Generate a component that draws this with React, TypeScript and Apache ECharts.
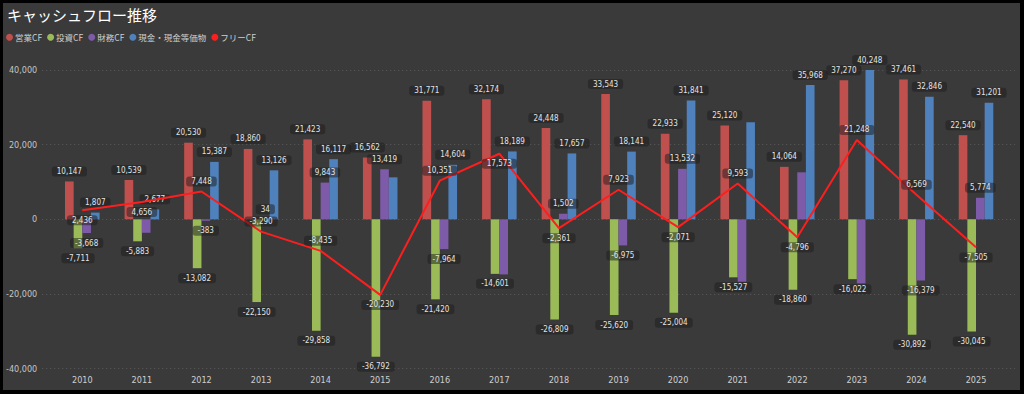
import React, { useEffect, useRef } from "react";
import * as echarts from "echarts";

const years = ["2010", "2011", "2012", "2013", "2014", "2015", "2016", "2017", "2018", "2019", "2020", "2021", "2022", "2023", "2024", "2025"];
const operatingCF = [10147, 10539, 20530, 18860, 21423, 16562, 31771, 32174, 24448, 33543, 22933, 25120, 14064, 37270, 37461, 22540];
const investingCF = [-7711, -5883, -13082, -22150, -29858, -36792, -21420, -14601, -26809, -25620, -25004, -15527, -18860, -16022, -30892, -30045];
const financingCF = [-3668, -3600, -383, 34, 9843, 13419, -7964, -14750, 1502, -6975, 13532, -16700, 12600, -17150, -16379, 5774];
const cashBalance = [1807, 2677, 15387, 13126, 16117, 11250, 14604, 18189, 17657, 18141, 31841, 26000, 35968, 40248, 32846, 31201];
const freeCF = [2436, 4656, 7448, -3290, -8435, -20230, 10351, 17573, -2361, 7923, -2071, 9593, -4796, 21248, 6569, -7505];

const seriesNames = ["営業CF", "投資CF", "財務CF", "現金・現金等価物", "フリーCF"];
const yTicks = { min: -40000, max: 40000, interval: 20000 };

// label display choices (which value labels the original hides / where free CF labels sit)
const financingHiddenYears = ["2011", "2017", "2021", "2022", "2023"];
const cashHiddenYears = ["2015", "2021"];
const freeLabelAboveYears = ["2012", "2013", "2014", "2016", "2019", "2021", "2023", "2024"];

const COLORS = ["#C0504D", "#9BBB59", "#7D5BA8", "#4F81BD", "#FF1E1E"];
const NUM_FONT = "'Liberation Sans Narrow', 'DejaVu Sans Condensed', 'Roboto', sans-serif";
const CJK_FONT = "'Noto Sans CJK JP', 'Noto Sans', sans-serif";
const LEGEND_FONT = "'Liberation Sans Narrow', 'Noto Sans CJK JP', sans-serif";

const fmt = (v: number) => v.toLocaleString("en-US");

const labelBase = {
  show: true,
  fontSize: 8,
  fontFamily: NUM_FONT,
  color: "#e4e4e4",
  backgroundColor: "rgba(28,28,28,0.5)",
  borderRadius: 3,
  padding: [1, 5, 1, 5],
  distance: 5,
  formatter: (p: any) => fmt(p.value),
};

export default function App() {
  const ref = useRef<HTMLDivElement>(null);

  useEffect(() => {
    if (!ref.current) return;
    const chart = echarts.init(ref.current, null, { renderer: "svg" });

    const barSeries = (idx: number, values: number[], hidden: string[]) => ({
      name: seriesNames[idx],
      type: "bar",
      xAxisIndex: 0,
      yAxisIndex: 0,
      barGap: "0%",
      barCategoryGap: "42%",
      itemStyle: { color: COLORS[idx] },
      label: { ...labelBase, position: "outside" },
      data: values.map((v, i) =>
        hidden.includes(years[i]) ? { value: v, label: { show: false } } : { value: v }
      ),
      z: 2,
    });

    const option: any = {
      animation: false,
      backgroundColor: "#3a3a3a",
      title: {
        text: "キャッシュフロー推移",
        left: 4,
        top: 4,
        padding: 0,
        textStyle: { color: "#ffffff", fontSize: 15, fontWeight: "normal", fontFamily: CJK_FONT },
      },
      legend: {
        left: 3,
        top: 30,
        padding: 0,
        icon: "circle",
        itemWidth: 7,
        itemHeight: 7,
        itemGap: 5,
        textStyle: { color: "#cfcfcf", fontSize: 8.5, fontFamily: LEGEND_FONT, padding: [0, 0, 0, -3] },
        data: seriesNames,
      },
      grid: [
        { left: 49.5, right: 14.2, top: 67, bottom: 21.3 },
        { left: 35, right: 5, top: 67, bottom: 21.3 },
      ],
      xAxis: [
        {
          type: "category",
          gridIndex: 0,
          data: years,
          axisLine: { show: false },
          axisTick: { show: false },
          axisLabel: { color: "#cfcfcf", fontSize: 9, fontFamily: NUM_FONT, margin: 7 },
        },
        { type: "value", gridIndex: 1, min: 0, max: 1, show: false },
      ],
      yAxis: [
        {
          type: "value",
          gridIndex: 0,
          ...yTicks,
          axisLabel: { show: false },
          splitLine: { show: false },
          axisLine: { show: false },
          axisTick: { show: false },
        },
        {
          type: "value",
          gridIndex: 1,
          ...yTicks,
          axisLine: { show: false },
          axisTick: { show: false },
          axisLabel: {
            color: "#c4c4c4",
            fontSize: 9,
            fontFamily: NUM_FONT,
            margin: 5,
            formatter: (v: number) => fmt(v),
          },
          splitLine: { show: true, lineStyle: { color: "#5c5c5c", type: [1, 3], width: 1 } },
        },
      ],
      series: [
        barSeries(0, operatingCF, []),
        barSeries(1, investingCF, []),
        barSeries(2, financingCF, financingHiddenYears),
        barSeries(3, cashBalance, cashHiddenYears),
        {
          name: seriesNames[4],
          type: "line",
          xAxisIndex: 0,
          yAxisIndex: 0,
          symbol: "circle",
          symbolSize: 0.1,
          showSymbol: true,
          itemStyle: { color: COLORS[4] },
          lineStyle: { color: COLORS[4], width: 2 },
          label: { ...labelBase },
          data: freeCF.map((v, i) => ({
            value: v,
            label: { position: freeLabelAboveYears.includes(years[i]) ? "top" : "bottom" },
          })),
          z: 5,
        },
      ],
    };

    chart.setOption(option);
    return () => chart.dispose();
  }, []);

  return (
    <div style={{ position: "fixed", left: 0, top: 0, width: 1024, height: 394, background: "#000" }}>
      <div ref={ref} style={{ position: "absolute", left: 3, top: 3, width: 1017, height: 387 }} />
    </div>
  );
}
